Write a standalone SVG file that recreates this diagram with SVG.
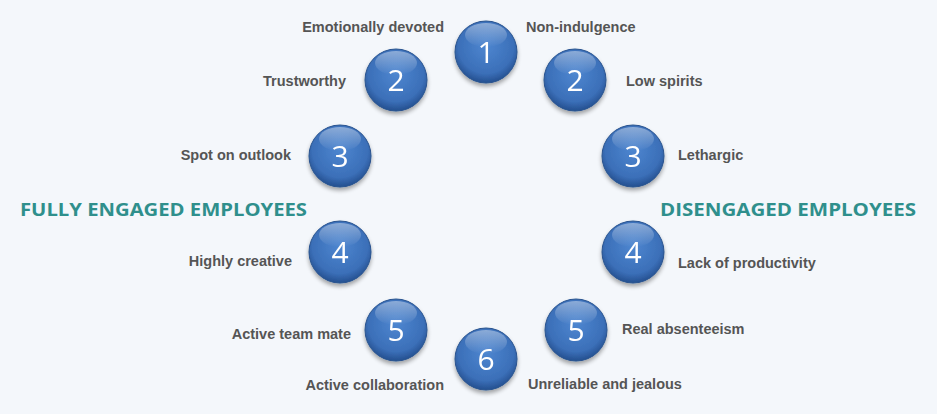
<svg xmlns="http://www.w3.org/2000/svg" width="937" height="414" viewBox="0 0 937 414">
<defs>
<radialGradient id="ball" cx="50%" cy="40%" r="60%">
<stop offset="0" stop-color="#4d86d0"/>
<stop offset="0.75" stop-color="#3b6fb8"/>
<stop offset="1" stop-color="#244f8f"/>
</radialGradient>
<linearGradient id="shine" x1="0" y1="0" x2="0" y2="1">
<stop offset="0" stop-color="#ffffff" stop-opacity="0.4"/>
<stop offset="1" stop-color="#ffffff" stop-opacity="0"/>
</linearGradient>
<filter id="sh" x="-30%" y="-30%" width="160%" height="170%">
<feGaussianBlur in="SourceAlpha" stdDeviation="2"/>
<feOffset dy="3" result="b"/>
<feComponentTransfer><feFuncA type="linear" slope="0.35"/></feComponentTransfer>
<feMerge><feMergeNode/><feMergeNode in="SourceGraphic"/></feMerge>
</filter>
<g id="ballshape">
<circle r="31" fill="url(#ball)" stroke="#2a548f" stroke-width="1"/>
<ellipse cx="0" cy="-17" rx="21" ry="12" fill="url(#shine)"/>
</g>
</defs>
<style>
.lbl{font-family:"Liberation Sans",Arial,sans-serif;font-weight:bold;font-size:14.5px;fill:#555555}
.num{font-family:"Open Sans","Liberation Sans",sans-serif;font-size:30px;fill:#ffffff;text-anchor:middle}
.ttl{font-family:"Open Sans","Liberation Sans",sans-serif;font-weight:bold;font-size:18px;fill:#2f8f8c}
.r{text-anchor:end}
</style>
<rect width="937" height="414" fill="#f4f7fb"/>
<g id="titles">
<text class="ttl" x="20" y="216" textLength="287" lengthAdjust="spacingAndGlyphs">FULLY ENGAGED EMPLOYEES</text>
<text class="ttl" x="660" y="216" textLength="256" lengthAdjust="spacingAndGlyphs">DISENGAGED EMPLOYEES</text>
</g>
<g id="n1" filter="url(#sh)"><use href="#ballshape" x="486" y="52"/><text class="num" x="486" y="63">1</text></g>
<g id="nL2" filter="url(#sh)"><use href="#ballshape" x="396" y="80"/><text class="num" x="396" y="91">2</text></g>
<g id="nR2" filter="url(#sh)"><use href="#ballshape" x="575" y="80"/><text class="num" x="575" y="91">2</text></g>
<g id="nL3" filter="url(#sh)"><use href="#ballshape" x="340" y="156"/><text class="num" x="340" y="167">3</text></g>
<g id="nR3" filter="url(#sh)"><use href="#ballshape" x="633" y="156"/><text class="num" x="633" y="167">3</text></g>
<g id="nL4" filter="url(#sh)"><use href="#ballshape" x="340" y="252"/><text class="num" x="340" y="263">4</text></g>
<g id="nR4" filter="url(#sh)"><use href="#ballshape" x="633" y="252"/><text class="num" x="633" y="263">4</text></g>
<g id="nL5" filter="url(#sh)"><use href="#ballshape" x="396" y="330"/><text class="num" x="396" y="341">5</text></g>
<g id="nR5" filter="url(#sh)"><use href="#ballshape" x="576" y="330"/><text class="num" x="576" y="341">5</text></g>
<g id="n6" filter="url(#sh)"><use href="#ballshape" x="486" y="359"/><text class="num" x="486" y="370">6</text></g>
<g id="labels">
<text class="lbl r" x="444" y="32">Emotionally devoted</text>
<text class="lbl" x="526" y="32">Non-indulgence</text>
<text class="lbl r" x="346" y="86">Trustworthy</text>
<text class="lbl" x="626" y="86">Low spirits</text>
<text class="lbl r" x="291" y="160">Spot on outlook</text>
<text class="lbl" x="678" y="160">Lethargic</text>
<text class="lbl r" x="292" y="266">Highly creative</text>
<text class="lbl" x="678" y="268">Lack of productivity</text>
<text class="lbl r" x="351" y="339">Active team mate</text>
<text class="lbl" x="622" y="334">Real absenteeism</text>
<text class="lbl r" x="444" y="390">Active collaboration</text>
<text class="lbl" x="528" y="389">Unreliable and jealous</text>
</g>
</svg>
